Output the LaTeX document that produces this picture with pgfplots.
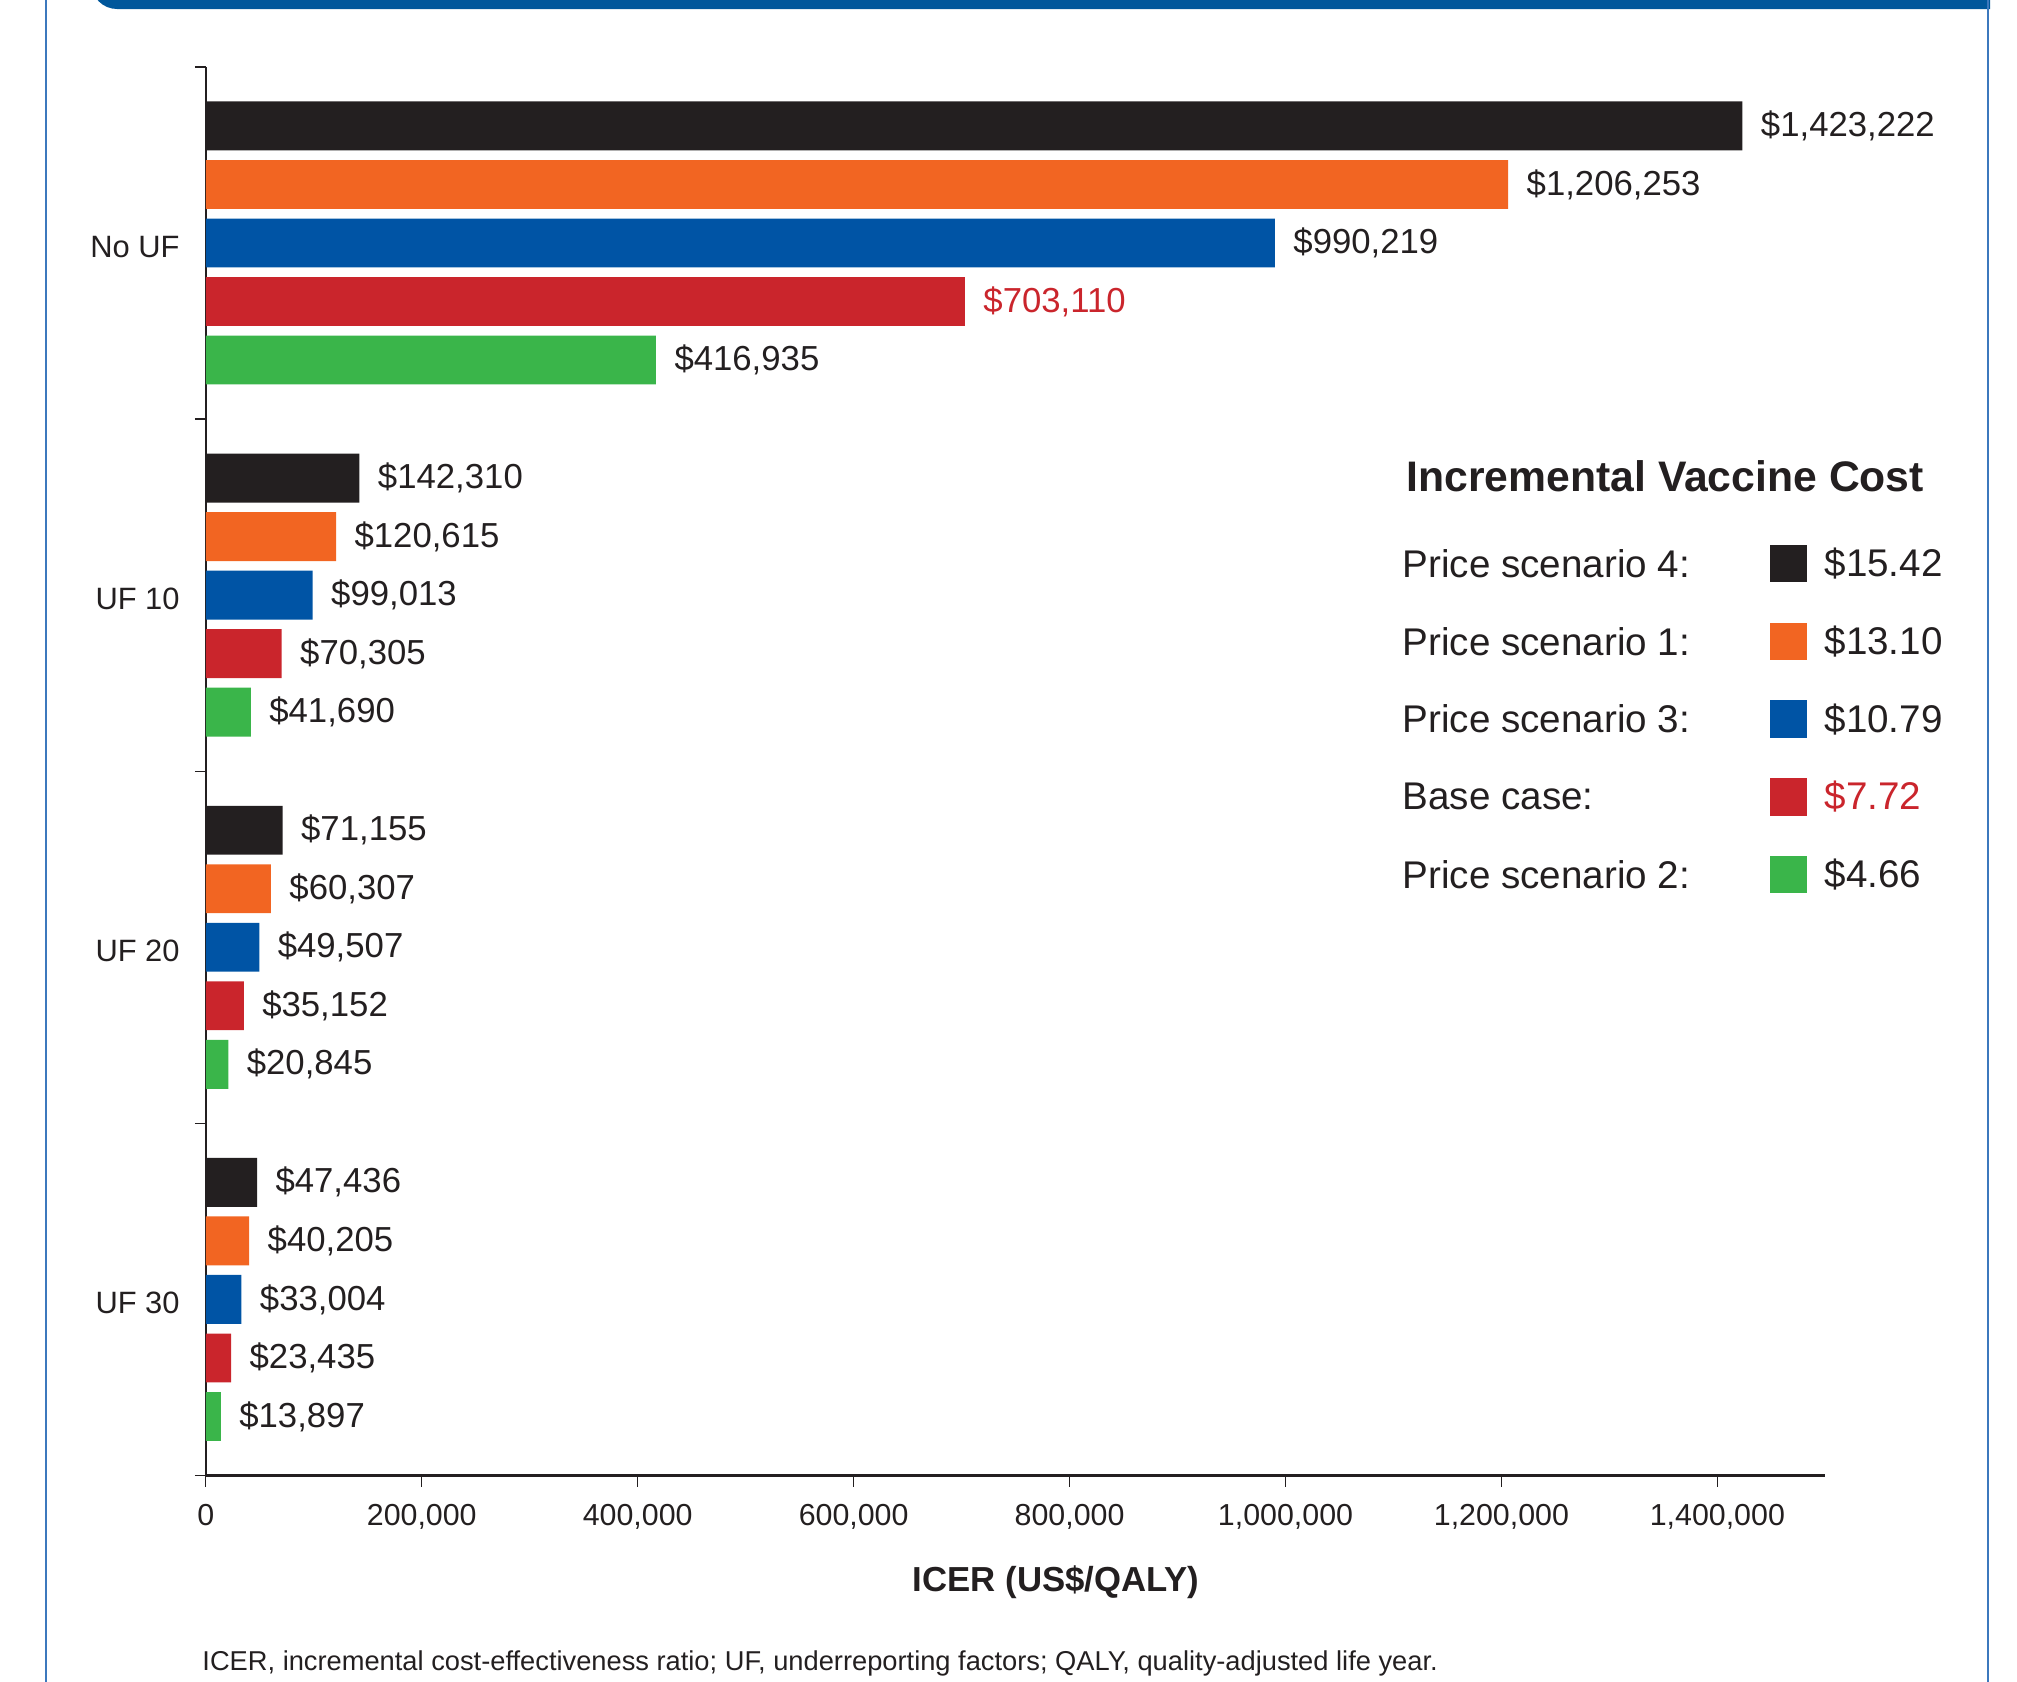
\documentclass[border=0pt]{standalone}
\usepackage{pgfplots}
\pgfplotsset{compat=1.18}
\usepackage{fontspec}
\setmainfont{Liberation Sans}
\definecolor{cblack}{HTML}{231F20}
\definecolor{corange}{HTML}{F26522}
\definecolor{cblue}{HTML}{0054A5}
\definecolor{cred}{HTML}{CA252C}
\definecolor{cgreen}{HTML}{3AB54A}
\definecolor{hdr}{HTML}{00579B}
\definecolor{framec}{HTML}{3C78BD}
\definecolor{txt}{HTML}{231F20}
\begin{document}
\begin{tikzpicture}
\useasboundingbox (0,0) rectangle (784pt,-653.5pt);
% frame
\fill[hdr] (35.5pt,20pt) [rounded corners=10pt] -- (35.5pt,-3.5pt) [sharp corners] -- (773.5pt,-3.5pt) -- (773.5pt,20pt) -- cycle;
\draw[framec, line width=0.7pt] (18pt,5pt) -- (18pt,-660pt);
\draw[framec, line width=0.7pt] (772.8pt,0pt) -- (772.8pt,-660pt);
\begin{axis}[
  at={(80pt,-573.5pt)}, anchor=south west,
  scale only axis, width=629.5pt, height=547.5pt,
  xmin=0, xmax=1500000, ymin=0, ymax=4, y dir=reverse,
  axis lines*=left,
  clip=false,
  x axis line style={line width=1.2pt, color=txt},
  y axis line style={line width=0.6pt, color=txt},
  tick align=outside, major tick length=4.3pt,
  tick style={line width=0.5pt, color=txt},
  xtick={0,200000,400000,600000,800000,1000000,1200000,1400000},
  xticklabels={0,{200,000},{400,000},{600,000},{800,000},{1,000,000},{1,200,000},{1,400,000}},
  scaled x ticks=false,
  xticklabel style={font=\fontsize{11.8}{13}\selectfont, text=txt, yshift=-3.5pt},
  ytick={0,1,2,3,4}, yticklabels={},
  extra y ticks={0.5,1.5,2.5,3.5},
  extra y tick labels={No UF,UF 10,UF 20,UF 30},
  extra y tick style={major tick length=0pt, yticklabel style={font=\fontsize{12}{14}\selectfont, text=txt, inner sep=0pt, xshift=-10pt, yshift=-1.5pt}},
  xbar, bar width=19pt,
  nodes near coords, point meta=explicit symbolic,
  every node near coord/.append style={anchor=west, inner sep=0pt, xshift=7pt, font=\fontsize{13.5}{16}\selectfont, text=txt},
]
\addplot[xbar, bar shift=0pt, fill=cblack, draw=none] coordinates {
 (1423222,0.1676) [\$1,423,222]
 (142310,1.1676) [\$142,310]
 (71155,2.1676) [\$71,155]
 (47436,3.1676) [\$47,436]
};
\addplot[xbar, bar shift=0pt, fill=corange, draw=none] coordinates {
 (1206253,0.3338) [\$1,206,253]
 (120615,1.3338) [\$120,615]
 (60307,2.3338) [\$60,307]
 (40205,3.3338) [\$40,205]
};
\addplot[xbar, bar shift=0pt, fill=cblue, draw=none] coordinates {
 (990219,0.5) [\$990,219]
 (99013,1.5) [\$99,013]
 (49507,2.5) [\$49,507]
 (33004,3.5) [\$33,004]
};
\addplot[xbar, bar shift=0pt, fill=cred, draw=none] coordinates {
 (703110,0.6662) [\textcolor{cred}{\$703,110}]
 (70305,1.6662) [\$70,305]
 (35152,2.6662) [\$35,152]
 (23435,3.6662) [\$23,435]
};
\addplot[xbar, bar shift=0pt, fill=cgreen, draw=none] coordinates {
 (416935,0.8324) [\$416,935]
 (41690,1.8324) [\$41,690]
 (20845,2.8324) [\$20,845]
 (13897,3.8324) [\$13,897]
};
\end{axis}
% x label
\node[font=\bfseries\fontsize{13.5}{15}\selectfont, text=txt, inner sep=0pt] at (410.5pt,-615pt) {ICER (US\$/QALY)};
% footnote
\node[font=\fontsize{10.6}{13}\selectfont, text=txt, inner sep=0pt, anchor=base west] at (78.5pt,-649.5pt) {ICER, incremental cost-effectiveness ratio; UF, underreporting factors; QALY, quality-adjusted life year.};
% legend
\node[font=\bfseries\fontsize{16.6}{19}\selectfont, text=txt, inner sep=0pt, anchor=west] at (546.5pt,-185pt) {Incremental Vaccine Cost};
\begin{scope}[every node/.style={font=\fontsize{15}{18}\selectfont, text=txt, inner sep=0pt, anchor=west}]
\node at (545pt,-219pt) {Price scenario 4:};
\node at (545pt,-249.25pt) {Price scenario 1:};
\node at (545pt,-279.5pt) {Price scenario 3:};
\node at (545pt,-309.75pt) {Base case:};
\node at (545pt,-340pt) {Price scenario 2:};
\fill[cblack] (688pt,-211.75pt) rectangle (702.5pt,-226.25pt);
\fill[corange] (688pt,-242pt) rectangle (702.5pt,-256.5pt);
\fill[cblue] (688pt,-272.25pt) rectangle (702.5pt,-286.75pt);
\fill[cred] (688pt,-302.5pt) rectangle (702.5pt,-317pt);
\fill[cgreen] (688pt,-332.75pt) rectangle (702.5pt,-347.25pt);
\node at (709pt,-219pt) {\$15.42};
\node at (709pt,-249.25pt) {\$13.10};
\node at (709pt,-279.5pt) {\$10.79};
\node[text=cred] at (709pt,-309.75pt) {\$7.72};
\node at (709pt,-340pt) {\$4.66};
\end{scope}
\end{tikzpicture}
\end{document}
